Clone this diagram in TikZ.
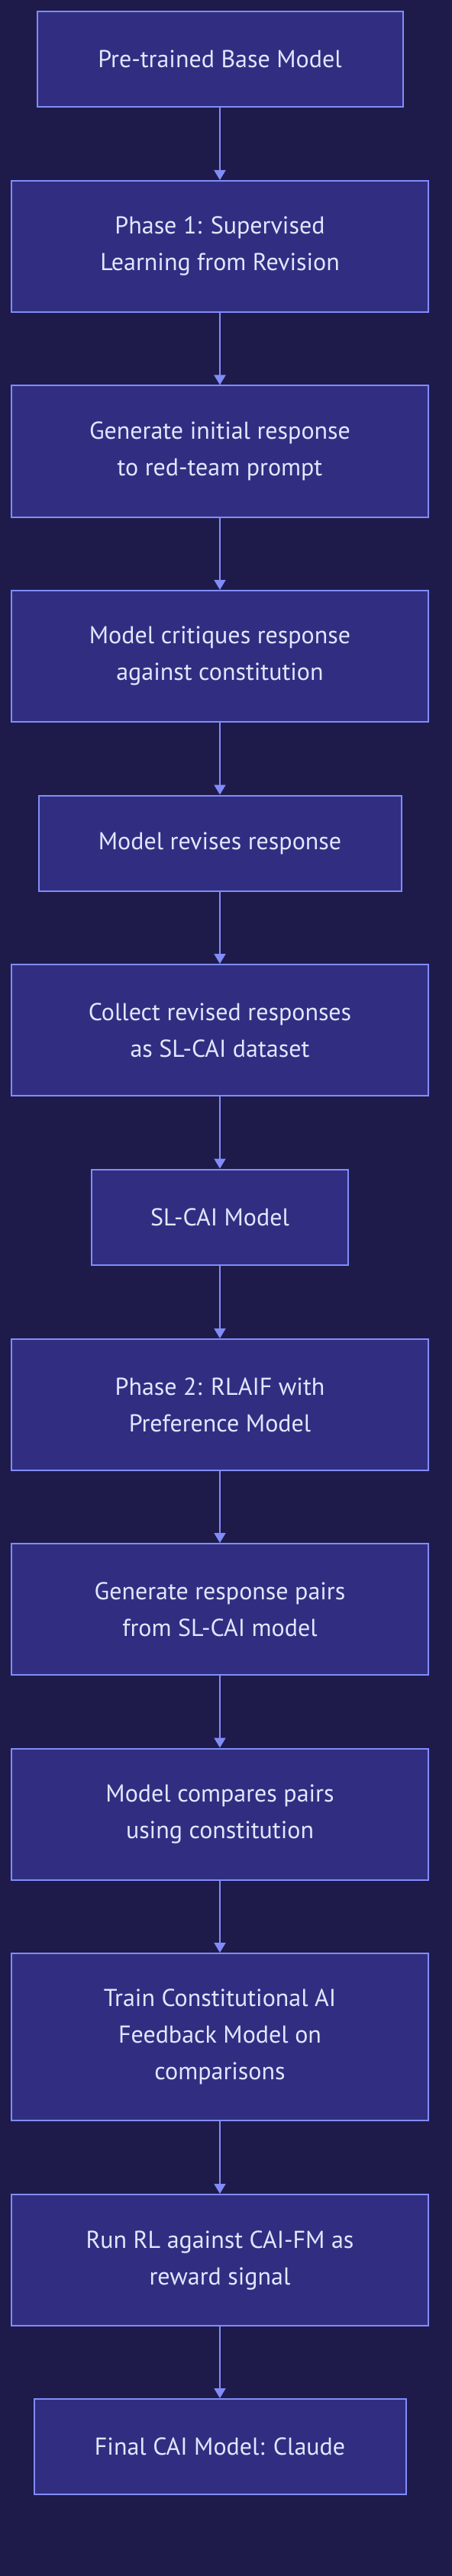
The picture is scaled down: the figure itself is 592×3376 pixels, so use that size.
\documentclass[tikz,border=0pt]{standalone}
\usepackage{fontspec}
\setmainfont{PT Sans}
\definecolor{bgnavy}{HTML}{1E1B4B}
\definecolor{boxfill}{HTML}{312E81}
\definecolor{boxline}{HTML}{818CF8}
\definecolor{boxtext}{HTML}{E0E7FF}
\usepackage{tikz}
\usetikzlibrary{arrows.meta, positioning}

\tikzset{
  stepbox/.style={draw=boxline, fill=boxfill, line width=1pt, text=boxtext, align=center,
    inner sep=0pt, minimum width=273pt, minimum height=86pt, font=\fontsize{16}{24}\selectfont},
  flow/.style={draw=boxline, line width=1pt, -{Triangle[width=7.5pt, length=6.5pt]}}
}

\begin{document}
\begin{tikzpicture}[x=0.5pt, y=-0.5pt]
  % Background
  \fill[bgnavy] (0, 0) rectangle (592, 3376);

  % Phase 1
  \node[stepbox, minimum width=239.5pt, minimum height=62.5pt] (base) at (288, 77.5) {Pre-trained Base Model};
  \node[stepbox] (phaseone) at (288, 323) {Phase 1: Supervised\\Learning from Revision};
  \node[stepbox] (initresp) at (288, 591.5) {Generate initial response\\to red-team prompt};
  \node[stepbox] (critique) at (288, 860) {Model critiques response\\against constitution};
  \node[stepbox, minimum width=237.5pt, minimum height=62.5pt] (revise) at (288, 1105) {Model revises response};
  \node[stepbox] (collect) at (288, 1350) {Collect revised responses\\as SL-CAI dataset};
  \node[stepbox, minimum width=168pt, minimum height=62.5pt] (slcai) at (288, 1595) {SL-CAI Model};

  % Phase 2
  \node[stepbox] (phasetwo) at (288, 1841) {Phase 2: RLAIF with\\Preference Model};
  \node[stepbox] (pairs) at (288, 2109) {Generate response pairs\\from SL-CAI model};
  \node[stepbox] (compare) at (288, 2377.5) {Model compares pairs\\using constitution};
  \node[stepbox, minimum height=109.5pt] (trainfm) at (288, 2669.5) {Train Constitutional AI\\Feedback Model on\\comparisons};
  \node[stepbox] (runrl) at (288, 2962) {Run RL against CAI-FM as\\reward signal};
  \node[stepbox, minimum width=243.5pt, minimum height=62.5pt] (final) at (288, 3206.5) {Final CAI Model: Claude};

  % Arrows
  \draw[flow] (base) -- (phaseone);
  \draw[flow] (phaseone) -- (initresp);
  \draw[flow] (initresp) -- (critique);
  \draw[flow] (critique) -- (revise);
  \draw[flow] (revise) -- (collect);
  \draw[flow] (collect) -- (slcai);
  \draw[flow] (slcai) -- (phasetwo);
  \draw[flow] (phasetwo) -- (pairs);
  \draw[flow] (pairs) -- (compare);
  \draw[flow] (compare) -- (trainfm);
  \draw[flow] (trainfm) -- (runrl);
  \draw[flow] (runrl) -- (final);
\end{tikzpicture}
\end{document}
